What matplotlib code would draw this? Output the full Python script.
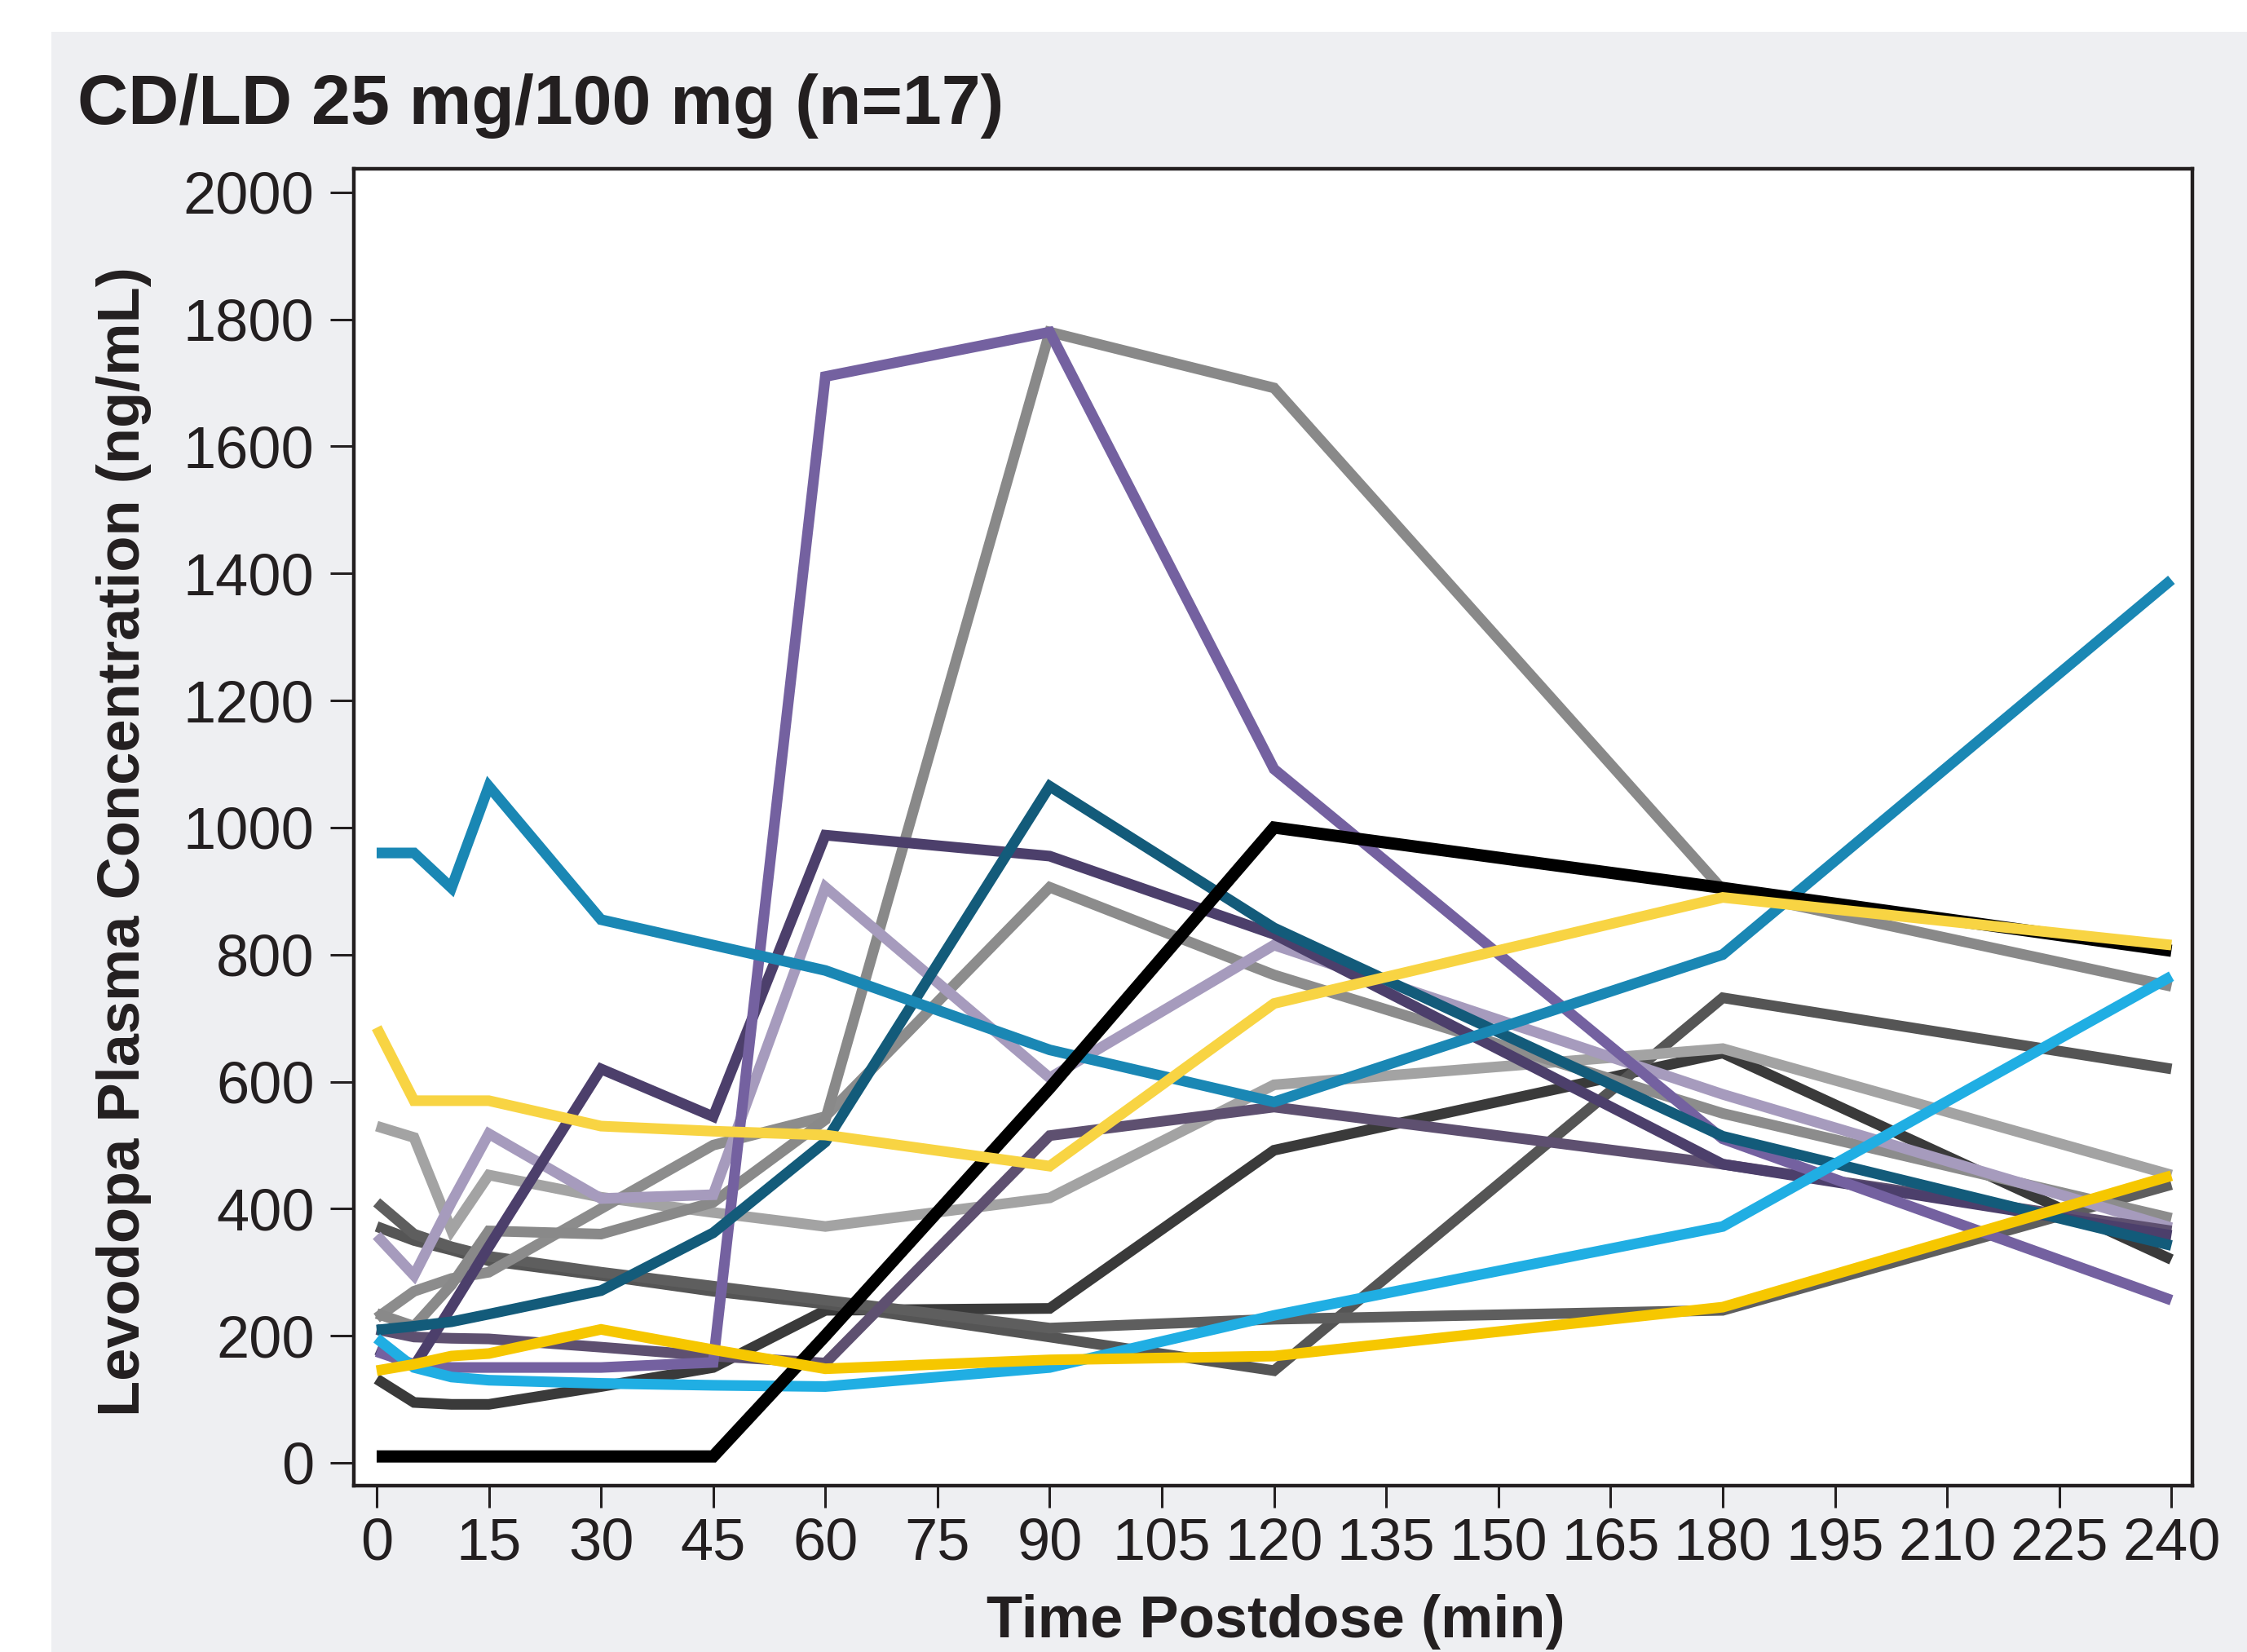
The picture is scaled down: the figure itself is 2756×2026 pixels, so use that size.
import matplotlib
matplotlib.use("Agg")
import matplotlib.pyplot as plt
from matplotlib import font_manager as fm
from matplotlib.patches import Rectangle

# Data: levodopa plasma concentration per subject (ng/mL)
times = [0, 5, 10, 15, 30, 45, 60, 90, 120, 180, 240]

gray_dark1 = [132, 95, 92, 92, 120, 150, 240, 243, 492, 645, 320]
gray_dark2 = [372, 350, 335, 318, 295, 270, 250, 198, 145, 732, 620]
gray_dark3 = [410, 360, 340, 325, 300, 278, 256, 212, 226, 240, 438]
gray_light = [530, 512, 366, 453, 418, 394, 372, 417, 595, 652, 453]
gray_mid = [228, 270, 290, 300, 400, 500, 545, 906, 768, 550, 385]
gray_peak = [235, 215, 280, 365, 360, 410, 540, 1780, 1692, 902, 750]
lavender = [358, 295, 410, 518, 416, 422, 906, 606, 815, 580, 370]
purple_gray = [210, 198, 196, 195, 182, 168, 157, 515, 560, 470, 365]
purple_dark = [178, 152, 245, 340, 620, 545, 988, 955, 832, 470, 358]
purple_mid = [175, 155, 150, 150, 150, 158, 1710, 1780, 1092, 510, 256]
teal_dark = [209, 215, 222, 234, 271, 362, 505, 1065, 842, 514, 342]
teal = [960, 960, 905, 1065, 855, 815, 775, 650, 568, 800, 1390]
blue_light = [196, 150, 135, 130, 125, 122, 120, 150, 232, 372, 766]
black = [10, 10, 10, 10, 10, 10, 200, 590, 1000, 905, 806]
yellow_a = [685, 570, 570, 570, 530, 522, 516, 467, 723, 890, 815]
yellow_b = [145, 155, 168, 172, 210, 178, 148, 162, 168, 245, 452]

series = [
    (gray_dark1, "#3a3a3a"),
    (gray_dark2, "#555555"),
    (gray_dark3, "#5e5e5e"),
    (gray_light, "#a3a3a3"),
    (gray_mid, "#8c8c8c"),
    (gray_peak, "#898989"),
    (lavender, "#a69bbd"),
    (purple_gray, "#5e5070"),
    (purple_dark, "#4c3f6b"),
    (purple_mid, "#7461a0"),
    (teal_dark, "#135b7a"),
    (teal, "#1a87b4"),
    (blue_light, "#20aee3"),
    (black, "#000000"),
    (yellow_a, "#f8d443"),
    (yellow_b, "#f6c700"),
]

names = {f.name for f in fm.fontManager.ttflist}
base = "Liberation Sans" if "Liberation Sans" in names else "DejaVu Sans"
narrow = "Liberation Sans Narrow" if "Liberation Sans Narrow" in names else base
plt.rcParams["font.family"] = base

W, H = 2756, 2026
fig = plt.figure(figsize=(W / 200, H / 200), dpi=200)
fig.patch.set_facecolor("white")
fig.add_artist(Rectangle((63 / W, 0), 1, (H - 39) / H, transform=fig.transFigure,
                         facecolor="#eeeff2", edgecolor="none", zorder=0))

ax = fig.add_axes([434 / W, (H - 1822) / H, (2689 - 434) / W, (1822 - 207) / H])
ax.set_facecolor("white")

for vals, col in series:
    lw = 5.4 if col == "#000000" else 4.7
    ax.plot(times, vals, color=col, lw=lw, solid_joinstyle="miter", solid_capstyle="butt")

ax.set_xlim(-3.05, 242.8)
ax.set_ylim(-36, 2037)
ax.set_xticks(range(0, 241, 15))
ax.set_yticks(range(0, 2001, 200))

ink = "#231f20"
for s in ax.spines.values():
    s.set_linewidth(1.6)
    s.set_color(ink)
ax.tick_params(axis="both", direction="out", color=ink, width=1.1, labelcolor=ink)
ax.tick_params(axis="y", length=10.4, pad=7, labelsize=26)
ax.tick_params(axis="x", length=9.8, pad=4, labelsize=26)
for lbl in ax.get_xticklabels():
    lbl.set_fontfamily(narrow)

fig.text(95 / W, (H - 130) / H, "CD/LD 25 mg/100 mg (n=17)", fontsize=31,
         fontweight="bold", family=narrow, color=ink, ha="left", va="center")
fig.text(152 / W, (H - 1032) / H, "Levodopa Plasma Concentration (ng/mL)", fontsize=26,
         fontweight="bold", family=narrow, color=ink, rotation=90, ha="center", va="center")
fig.text(1565 / W, 3 / H, "Time Postdose (min)", fontsize=26,
         fontweight="bold", family=narrow, color=ink, ha="center", va="bottom")

fig.savefig("out.png", dpi=200)
